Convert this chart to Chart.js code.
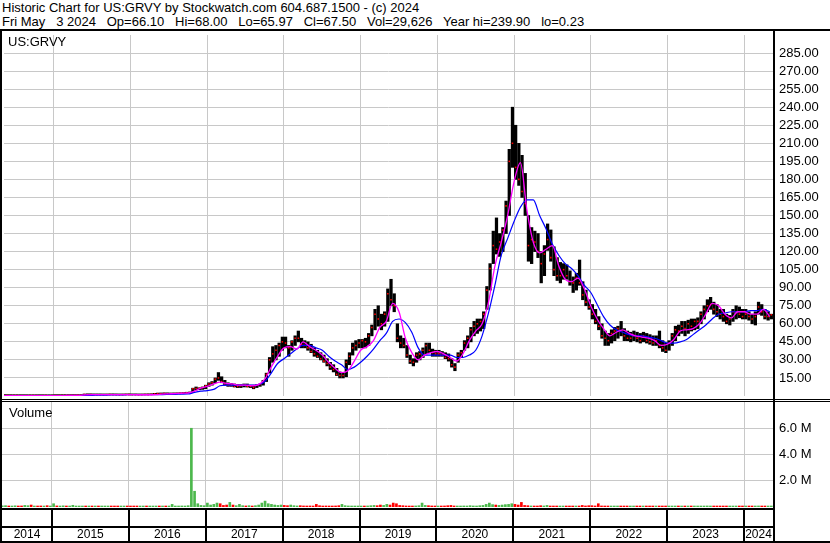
<!DOCTYPE html>
<html>
<head>
<meta charset="utf-8">
<script src="https://cdn.jsdelivr.net/npm/chart.js@4.4.1/dist/chart.umd.min.js"></script>
<style>
  html, body { margin: 0; padding: 0; background: #fff; }
  #wrap { position: relative; width: 830px; height: 543px; overflow: hidden;
          font-family: "Liberation Sans", Arial, sans-serif; color: #000; }
  #title { position: absolute; left: 2px; top: 1px; font-size: 13px; line-height: 14px; white-space: pre; }
  .lbl { position: absolute; font-size: 13px; line-height: 13px; }
  .blk { position: absolute; background: #000; z-index: 2; }
  canvas { position: absolute; left: 0; }
</style>
</head>
<body>
<div id="wrap">
  <div id="title">Historic Chart for US:GRVY by Stockwatch.com 604.687.1500 - (c) 2024
Fri May   3 2024   Op=66.10   Hi=68.00   Lo=65.97   Cl=67.50   Vol=29,626   Year hi=239.90   lo=0.23</div>
  <canvas id="priceChart" width="830" height="369" style="top:31px"></canvas>
  <canvas id="volChart" width="830" height="141" style="top:402px"></canvas>
  <div class="lbl" style="left:8px;top:35px">US:GRVY</div>
  <div class="lbl" style="left:9px;top:406px">Volume</div>
  <div class="blk" style="left:0;top:29px;width:830px;height:2px"></div>
  <div class="blk" style="left:0;top:31px;width:2px;height:512px"></div>
  <div class="blk" style="left:773px;top:31px;width:2px;height:512px"></div>
  <div class="blk" style="left:0;top:399px;width:830px;height:1px"></div>
  <div class="blk" style="left:0;top:401px;width:830px;height:1px"></div>
</div>
<script>
// half-month bars, May 2014 .. early May 2024 (one row per year)
const priceHigh = [
  0.5,0.5,0.48,0.45,0.45,0.45,0.42,0.4,0.4,0.4,0.45,0.45,0.42,0.4,0.4,0.42,
  0.45,0.45,0.5,0.5,0.5,0.52,0.55,0.55,0.6,1.3,1.4,1.3,1.3,1.3,1.25,1.2,1.2,1.3,1.3,1.25,1.2,1.2,1.3,1.3,
  1.3,1.3,1.25,1.2,1.3,1.3,1.4,1.9,2.0,2.1,2.2,2.2,2.1,2.1,2.2,2.3,2.6,2.8,3.0,6.5,7.5,6.8,7.5,9.0,
  11,12,15,19.5,16,13,11,10.5,10,9.5,9.5,10,10,9,9,9.5,10,13,19,32,41,42,44,49,
  49,42,46,50,54,48,46,45,43,40,38,36,34,31,28,26,23,20,19,30,36,44,46,47,
  47,48,52,59,72,75,68,70,89,97,85,60,50,48,42,34,31,36,37,40,44,44,39,38,
  38,37,36,35,31,27,36,38,46,50,57,62,64,64,70,91,110,137,148,135,140,162,205,240,
  225,210,200,185,150,140,137,135,120,125,143,138,124,115,111,110,109,104,99,102,113,95,88,80,
  76,72,66,60,54,52,55,57,58,62,56,54,53,54,53,52,53,52,51,50,50,54,46,44,
  46,52,58,59,62,62,63,64,64,65,70,75,80,82,78,76,72,72,68,67,72,75,74,72,
  72,70,68,70,78,76,72,70,68
];
const priceLow = [
  0.3,0.3,0.3,0.28,0.28,0.27,0.26,0.25,0.25,0.24,0.25,0.26,0.25,0.24,0.23,0.24,
  0.3,0.3,0.32,0.33,0.35,0.35,0.35,0.38,0.4,0.8,1.0,1.0,0.95,0.95,0.95,0.9,0.9,0.95,1.0,0.95,0.9,0.9,0.95,1.0,
  0.95,0.95,0.9,0.9,0.95,1.0,1.05,1.4,1.6,1.7,1.8,1.8,1.7,1.75,1.8,1.9,2.1,2.3,2.5,2.8,5.0,5.2,5.5,6.0,
  8,9,11,13,11,9,8,8,7.5,7,7,7.5,7.5,7,6,7,8,9,12,19,28,30,33,38,
  40,33,38,42,45,40,40,38,36,33,32,30,28,25,22,20,17,15,15,16,26,34,38,40,
  40,40,42,50,55,58,55,58,62,75,70,45,40,40,32,27,25,28,30,32,35,36,33,33,
  33,33,31,29,24,21,28,32,38,40,45,50,52,54,56,72,88,110,118,116,120,135,150,190,
  180,175,165,150,112,110,120,115,94,100,121,112,100,96,94,97,97,92,86,88,92,80,75,72,
  64,60,55,48,42,42,44,46,48,50,46,46,45,46,45,44,45,44,43,42,42,40,37,36,
  38,42,46,50,52,50,52,54,55,56,60,64,70,72,68,66,64,62,60,59,62,64,65,64,
  64,63,60,59,68,67,64,63,64
];
const priceClose = [
  0.4,0.4,0.35,0.35,0.38,0.32,0.3,0.3,0.32,0.3,0.35,0.32,0.3,0.3,0.28,0.3,
  0.4,0.38,0.42,0.45,0.42,0.45,0.48,0.5,0.55,1.2,1.1,1.15,1.05,1.1,1.0,1.05,1.1,1.2,1.1,1.05,1.0,1.1,1.2,1.15,
  1.1,1.05,1.0,1.1,1.2,1.15,1.3,1.8,1.9,1.8,2.0,1.9,1.9,2.0,2.1,2.2,2.5,2.7,2.8,6.0,6.2,6.5,7.0,8.5,
  10,11,14,15,12,10,9,9,8,8,8.5,9,8,8,7,9,9.5,12,18,30,35,38,42,45,
  44,40,45,48,48,43,42,40,37,35,33,31,29,27,24,22,18,17,17,28,33,40,42,44,
  46,45,50,57,68,64,60,68,85,80,75,48,44,42,34,29,28,34,35,38,42,38,36,35,
  35,34,32,31,26,24,34,36,44,48,55,58,60,62,68,88,106,125,122,128,138,158,195,210,
  190,180,170,160,125,130,128,120,110,118,130,115,105,100,100,105,100,95,94,98,94,84,78,74,
  68,62,58,50,48,46,52,54,56,54,50,48,48,50,48,46,50,46,45,44,46,42,40,38,
  44,50,55,54,58,56,60,58,62,62,68,72,75,76,72,70,68,66,62,64,70,70,68,66,
  68,66,64,66,74,70,66,66,67.5
];
// volume, millions of shares
const volume = [
  0.08,0.1,0.06,0.07,0.09,0.05,0.08,0.12,0.1,0.15,0.07,0.06,0.08,0.05,0.1,0.07,
  0.25,0.08,0.06,0.09,0.05,0.07,0.13,0.06,0.05,0.07,0.04,0.05,0.06,0.04,0.05,0.03,0.04,0.05,0.06,0.04,0.03,0.05,0.04,0.06,
  0.05,0.04,0.06,0.05,0.03,0.05,0.04,0.06,0.05,0.04,0.06,0.05,0.07,0.2,0.05,0.06,0.08,0.06,0.1,6.0,1.2,0.25,0.12,0.1,
  0.3,0.15,0.2,0.3,0.25,0.12,0.15,0.35,0.15,0.1,0.2,0.1,0.08,0.1,0.06,0.1,0.15,0.3,0.45,0.25,0.2,0.15,0.12,0.15,
  0.12,0.1,0.15,0.1,0.08,0.1,0.08,0.06,0.08,0.07,0.2,0.1,0.06,0.08,0.05,0.07,0.08,0.1,0.2,0.1,0.08,0.06,0.07,0.05,
  0.06,0.05,0.08,0.1,0.12,0.1,0.15,0.12,0.2,0.15,0.3,0.25,0.12,0.1,0.08,0.07,0.06,0.08,0.1,0.3,0.12,0.1,0.08,0.07,
  0.06,0.05,0.08,0.1,0.12,0.08,0.06,0.07,0.08,0.06,0.1,0.08,0.07,0.1,0.12,0.2,0.3,0.18,0.15,0.12,0.15,0.18,0.2,0.25,
  0.2,0.15,0.35,0.12,0.1,0.08,0.07,0.06,0.1,0.08,0.12,0.07,0.06,0.05,0.06,0.05,0.06,0.04,0.05,0.06,0.05,0.12,0.08,0.1,
  0.1,0.08,0.25,0.08,0.06,0.05,0.06,0.05,0.04,0.05,0.06,0.04,0.05,0.04,0.03,0.04,0.05,0.04,0.03,0.04,0.05,0.04,0.04,0.03,
  0.04,0.05,0.04,0.06,0.05,0.07,0.04,0.05,0.04,0.05,0.06,0.05,0.08,0.06,0.05,0.04,0.05,0.04,0.06,0.05,0.04,0.05,0.06,0.04,
  0.05,0.04,0.05,0.06,0.08,0.06,0.05,0.04,0.03
];
// moving averages read at month starts, May 2014 .. May 2024
const maShort = [
  0.3,0.3,0.3,0.3,0.3,0.3,0.3,0.3,
  0.35,0.35,0.4,0.45,0.6,1.0,1.1,1.1,1.1,1.1,1.1,1.1,
  1.1,1.05,1.05,1.05,1.2,1.6,1.8,2.0,2.3,2.5,4.0,6.5,
  8,10,11.5,10.5,10,9,9,8.5,9.5,14,24,33,
  40,41,39,45,41,38,34,28,23,19.5,21,29,
  38,41,46,57,62,77,70,48,36,30,34,36,
  37,35,32,29,35,46,54,60,78,108,128,150,
  178,194,155,128,119,122,125,108,97,95,98,89,
  75,64,56,50,53,55,52,50,49,48,46,42,
  43,47,54,55,56,60,68,77,75,68,65,70,
  70,68,68,72,66
];
const maLong = [
  0.3,0.3,0.3,0.3,0.3,0.3,0.3,0.3,
  0.3,0.3,0.3,0.35,0.4,0.5,0.6,0.7,0.8,0.9,1.0,1.0,
  1.1,1.1,1.1,1.1,1.2,1.2,1.3,1.4,1.6,1.7,3.0,4.0,
  4.5,5.5,8.5,9,9,9,9,9,9.5,12,19,27,
  31,35,39,42,42,40,38,33,29,26,22,24,
  28,33,39,46,52,62,64,61,53,40,34,34,
  34,34,34,32,32,34,38,50,69,92,117,131,
  145,157,163,163,150,139,126,117,110,106,100,92,
  86,76,66,59,55,53,51,50,50,49,48,46,
  44,44,45,47,51,55,59,64,68,69,70,70,
  70,71,71,72,70
];
const yearTicks = [2015, 2016, 2017, 2018, 2019, 2020, 2021, 2022, 2023, 2024];
const yearLabels = ['2014','2015','2016','2017','2018','2019','2020','2021','2022','2023','2024'];
const priceTicks = [15,30,45,60,75,90,105,120,135,150,165,180,195,210,225,240,255,270,285];
const volTicks = [2, 4, 6];

const startYear = 2014, startHalf = 8, startMonth = 4;   // first bar: May 2014
const xMin = 2014.35, xMax = 2024.376;

const halfT = i => startYear + (startHalf + i + 0.5) / 24;
const monthT = m => startYear + (startMonth + m) / 12;

const rangePts = priceHigh.map((h, i) => ({ x: halfT(i), y: [priceLow[i], h] }));
const closePts = priceClose.map((c, i) => ({ x: halfT(i), y: c }));
const shortPts = maShort.map((v, m) => ({ x: monthT(m), y: v }));
const longPts = maLong.map((v, m) => ({ x: monthT(m), y: v }));
const volPts = volume.map((v, i) => ({ x: halfT(i), y: v }));
const volColors = priceClose.map((c, i) => (i === 0 || c >= priceClose[i - 1]) ? '#4cb84c' : '#ff0000');

Chart.defaults.font.family = '"Liberation Sans", Arial, sans-serif';
Chart.defaults.font.size = 13;
Chart.defaults.color = '#000';

const gridColor = '#c8c8c8';
const noPad = s => { s.paddingTop = 0; s.paddingBottom = 0; s.paddingLeft = 0; s.paddingRight = 0; };
const xAxis = () => ({
  type: 'linear', min: xMin, max: xMax, offset: false,
  grid: { offset: false, color: gridColor, drawTicks: false },
  border: { display: false },
  ticks: { display: false },
  afterBuildTicks: s => { s.ticks = yearTicks.map(v => ({ value: v })); },
  afterFit: s => { s.height = 0; noPad(s); }
});

new Chart(document.getElementById('priceChart'), {
  type: 'bar',
  data: {
    datasets: [
      { type: 'line', data: shortPts, borderColor: '#ff00ff', borderWidth: 1.3, pointRadius: 0, cubicInterpolationMode: 'monotone', order: 1 },
      { type: 'line', data: longPts, borderColor: '#0000ff', borderWidth: 1.2, pointRadius: 0, cubicInterpolationMode: 'monotone', order: 2 },
      { type: 'line', data: closePts, showLine: false, pointStyle: 'rect', pointRadius: 1.1, pointBackgroundColor: '#ff0000', pointBorderWidth: 0, order: 3 },
      { type: 'bar', data: rangePts, backgroundColor: '#000', barThickness: 2.6, minBarLength: 1, order: 4 }
    ]
  },
  options: {
    responsive: false, animation: false, events: [],
    layout: { padding: { left: 2, right: 0, top: 0, bottom: 0 } },
    plugins: { legend: { display: false }, tooltip: { enabled: false } },
    scales: {
      x: xAxis(),
      y: {
        position: 'right', min: 0, max: 300,
        grid: { color: gridColor, drawTicks: false },
        border: { display: false },
        ticks: { padding: 6, callback: v => v.toFixed(2) },
        afterBuildTicks: s => { s.ticks = priceTicks.map(v => ({ value: v })); },
        afterFit: s => { s.width = 57; noPad(s); }
      }
    }
  }
});

// year boxes under the volume panel
const yearBoxes = {
  id: 'yearBoxes',
  afterDraw(chart) {
    const { ctx, scales: { x } } = chart;
    const top = chart.chartArea.bottom;
    const right = chart.chartArea.right;
    ctx.save();
    ctx.fillStyle = '#000';
    ctx.fillRect(0, top + 1, right, 2);
    ctx.fillRect(0, top + 19, right, 2);
    ctx.fillRect(0, top + 34, chart.width, 2);
    yearTicks.forEach(v => {
      const px = Math.round(x.getPixelForValue(v));
      ctx.fillRect(px - 1, top + 1, 2, 35);
    });
    const edges = [x.left].concat(yearTicks.map(v => x.getPixelForValue(v)), [x.right]);
    ctx.font = '12px "Liberation Sans", Arial, sans-serif';
    ctx.textAlign = 'center';
    ctx.textBaseline = 'middle';
    yearLabels.forEach((lab, k) => ctx.fillText(lab, (edges[k] + edges[k + 1]) / 2, top + 28));
    ctx.restore();
  }
};

new Chart(document.getElementById('volChart'), {
  type: 'bar',
  data: {
    datasets: [
      { data: volPts, backgroundColor: volColors, barThickness: 2, minBarLength: 1 }
    ]
  },
  options: {
    responsive: false, animation: false, events: [],
    layout: { padding: { left: 2, right: 0, top: 0, bottom: 36 } },
    plugins: { legend: { display: false }, tooltip: { enabled: false } },
    scales: {
      x: xAxis(),
      y: {
        position: 'right', min: 0, max: 8,
        grid: { color: gridColor, drawTicks: false },
        border: { display: false },
        ticks: { padding: 6, callback: v => v.toFixed(1) + ' M' },
        afterBuildTicks: s => { s.ticks = volTicks.map(v => ({ value: v })); },
        afterFit: s => { s.width = 57; noPad(s); }
      }
    }
  },
  plugins: [yearBoxes]
});
</script>
</body>
</html>
